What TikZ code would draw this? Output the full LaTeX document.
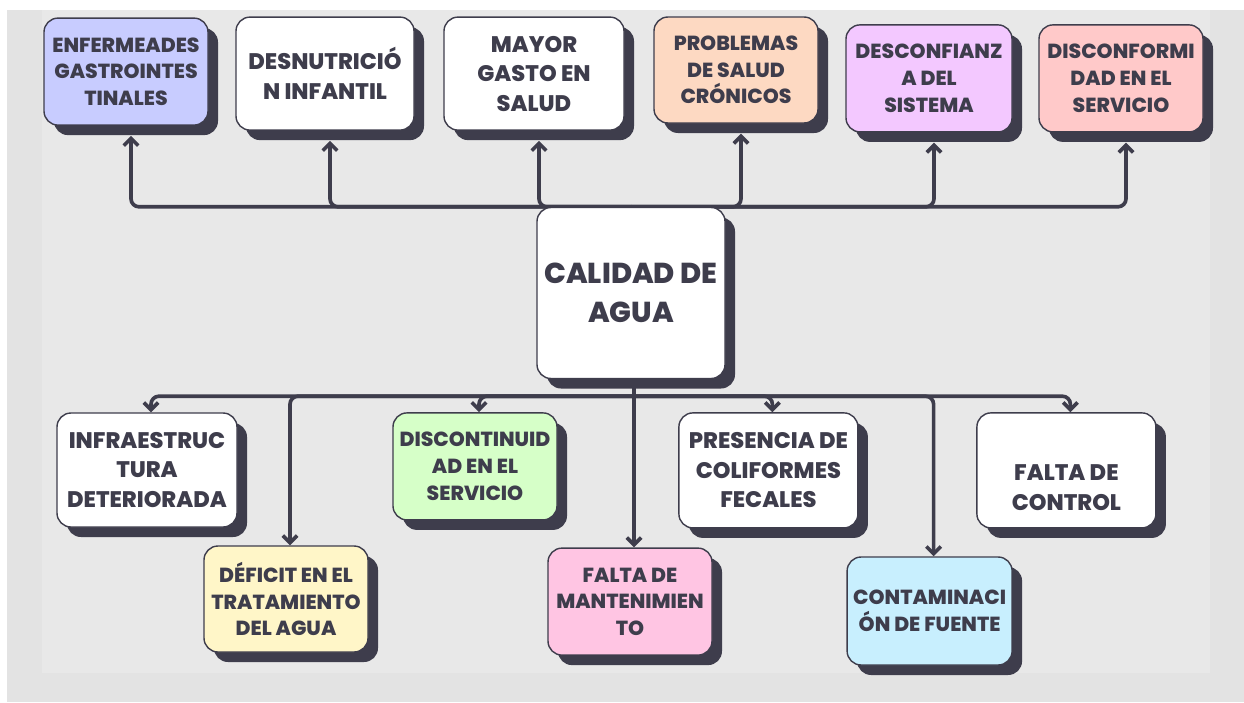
\documentclass[tikz,border=0pt]{standalone}
\usepackage{fontspec}
\setmainfont{Poppins}[BoldFont={Poppins ExtraBold}]
\usetikzlibrary{arrows.meta, shadows}

\definecolor{ink}{HTML}{3E3D4C}
\definecolor{outerbg}{HTML}{E3E3E3}
\definecolor{panelbg}{HTML}{E8E8E8}
\definecolor{lavender}{HTML}{C8CCFF}
\definecolor{peach}{HTML}{FDD9C2}
\definecolor{lilac}{HTML}{F3C8FF}
\definecolor{rose}{HTML}{FFC9C9}
\definecolor{butter}{HTML}{FFF6C8}
\definecolor{mint}{HTML}{D6FFC8}
\definecolor{candy}{HTML}{FFC5E3}
\definecolor{sky}{HTML}{C8EFFE}

\pgfdeclarelayer{back}
\pgfdeclarelayer{links}
\pgfsetlayers{back,links,main}

\begin{document}
\begin{tikzpicture}[>={Straight Barb[length=1.8mm, width=3.6mm]},
        box/.style={rectangle, draw=ink, line width=1pt, rounded corners=0.35cm, text=ink, align=center, inner sep=2pt,
            drop shadow={shadow xshift=0.25cm, shadow yshift=-0.25cm, fill=ink, opacity=1}},
        small/.style={box, font=\bfseries\fontsize{14.5}{19}\selectfont},
        large/.style={box, fill=white, font=\bfseries\fontsize{16}{21}\selectfont},
        core/.style={box, fill=white, font=\bfseries\fontsize{20.5}{27.5}\selectfont},
        link/.style={->, draw=ink, line width=2.6pt, rounded corners=0.2cm}]

    \useasboundingbox (0,0) rectangle (31.1,-17.55);

    % Effects (top row)
    \node (enferm) [small, fill=lavender, minimum width=4.1cm, minimum height=2.675cm] at (3.15,-1.79) {ENFERMEADES\\GASTROINTES\\TINALES};
    \node (desnut) [large, minimum width=4.45cm, minimum height=2.825cm] at (8.125,-1.84) {DESNUTRICIÓ\\N INFANTIL};
    \node (gasto) [large, minimum width=4.5cm, minimum height=2.825cm] at (13.35,-1.84) {MAYOR\\GASTO EN\\SALUD};
    \node (cronic) [small, fill=peach, minimum width=4.1cm, minimum height=2.65cm] at (18.4,-1.75) {PROBLEMAS\\DE SALUD\\CRÓNICOS};
    \node (desconf) [small, fill=lilac, minimum width=4.15cm, minimum height=2.675cm] at (23.225,-1.96) {DESCONFIANZ\\A DEL\\SISTEMA};
    \node (disconf) [small, fill=rose, minimum width=4.1cm, minimum height=2.675cm] at (28.025,-1.96) {DISCONFORMI\\DAD EN EL\\SERVICIO};

    % Central problem
    \node (agua) [core, minimum width=4.7cm, minimum height=4.275cm] at (15.775,-7.325) {CALIDAD DE\\AGUA};

    % Causes (bottom rows)
    \node (infra) [large, minimum width=4.5cm, minimum height=2.85cm] at (3.675,-11.75) {INFRAESTRUC\\TURA\\DETERIORADA};
    \node (deficit) [small, fill=butter, minimum width=4.1cm, minimum height=2.65cm] at (7.15,-14.975) {DÉFICIT EN EL\\TRATAMIENTO\\DEL AGUA};
    \node (discont) [small, fill=mint, minimum width=4.1cm, minimum height=2.675cm] at (11.875,-11.66) {DISCONTINUID\\AD EN EL\\SERVICIO};
    \node (mantto) [small, fill=candy, minimum width=4.1cm, minimum height=2.675cm] at (15.75,-15.04) {FALTA DE\\MANTENIMIEN\\TO};
    \node (colif) [large, minimum width=4.475cm, minimum height=2.875cm] at (19.21,-11.76) {PRESENCIA DE\\COLIFORMES\\FECALES};
    \node (contam) [small, fill=sky, minimum width=4.125cm, minimum height=2.7cm] at (23.24,-15.275) {CONTAMINACI\\ÓN DE FUENTE};
    \node (control) [large, minimum width=4.475cm, minimum height=2.875cm] at (26.66,-11.76) {\strut\\FALTA DE\\CONTROL};

    \coordinate (hub) at ([xshift=0.075cm, yshift=-0.425cm]agua.south);

    % Background panel
    \begin{pgfonlayer}{back}
        \fill [white] (0,0) rectangle (31.1,-17.55);
        \fill [outerbg] (0.175,-0.25) rectangle (31.1,-17.55);
        \fill [panelbg] (1.05,-0.25) rectangle (30.25,-16.825);
    \end{pgfonlayer}

    \begin{pgfonlayer}{links}
        % Up to the effects
        \draw [link] (agua.north) -| ([shift={(0.125,-0.25)}]enferm.south);
        \draw [link] (agua.north) -| ([shift={(0.125,-0.25)}]desnut.south);
        \draw [link] (agua.north) -| ([shift={(0.125,-0.25)}]gasto.south);
        \draw [link] (agua.north) -| ([shift={(0.125,-0.25)}]cronic.south);
        \draw [link] (agua.north) -| ([shift={(0.125,-0.25)}]desconf.south);
        \draw [link] (agua.north) -| ([shift={(0.125,-0.25)}]disconf.south);

        % Down to the causes
        \draw [link] (hub) -| ([xshift=0.1cm]infra.north);
        \draw [link] (hub) -| ([xshift=0.1cm]deficit.north);
        \draw [link] (hub) -| ([xshift=0.1cm]discont.north);
        \draw [link] (hub |- agua.south) -- ([xshift=0.1cm]mantto.north);
        \draw [link] (hub) -| ([xshift=0.1cm]colif.north);
        \draw [link] (hub) -| ([xshift=0.1cm]contam.north);
        \draw [link] (hub) -| ([xshift=0.1cm]control.north);
    \end{pgfonlayer}

\end{tikzpicture}
\end{document}
